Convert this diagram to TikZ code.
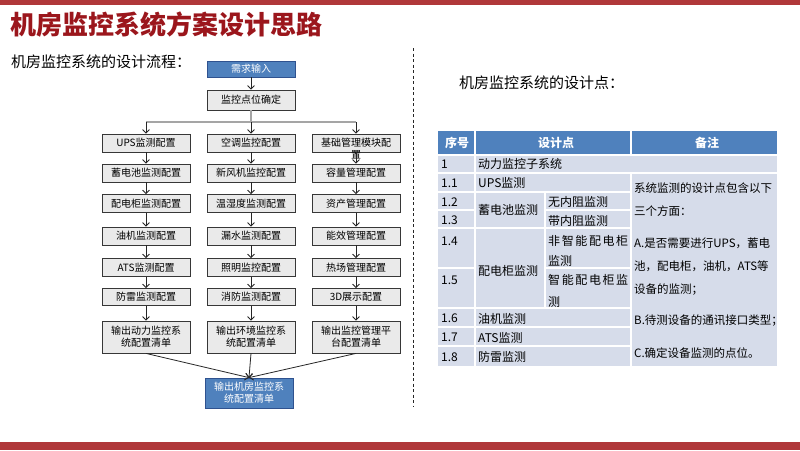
\documentclass[tikz,border=0pt]{standalone}
\usepackage{fontspec}
\setmainfont{Noto Sans CJK SC}
\usetikzlibrary{arrows.meta}
\XeTeXlinebreaklocale "zh"
\XeTeXlinebreakskip = 0pt plus 1pt
\definecolor{barred}{RGB}{176,56,58}
\definecolor{titlered}{RGB}{155,22,28}
\definecolor{boxblue}{RGB}{79,129,189}
\definecolor{boxblueline}{RGB}{47,82,143}
\definecolor{boxgray}{RGB}{234,234,234}
\definecolor{boxline}{RGB}{55,55,55}
\definecolor{thead}{RGB}{79,129,189}
\definecolor{tbody}{RGB}{214,220,234}
\definecolor{busgray}{RGB}{165,165,165}
\tikzset{
  gbox/.style={draw=boxline, line width=0.8pt, fill=boxgray, minimum width=88pt, minimum height=18pt,
    inner sep=1pt, align=center, font=\fontsize{10}{12}\selectfont},
  bbox/.style={gbox, fill=boxblue, draw=boxblueline, text=white},
  arr/.style={-{Straight Barb[length=3.5pt,width=7pt]}, black!85, line width=0.8pt},
  busline/.style={busgray, line width=1.3pt},
  tline/.style={white, line width=1.5pt},
  tcell/.style={anchor=west, inner sep=0pt, font=\fontsize{12}{20}\selectfont},
  thd/.style={inner sep=0pt, text=white, font=\fontsize{12}{14}\selectfont\bfseries},
}
\begin{document}
\begin{tikzpicture}[x=1pt,y=-1pt]
\useasboundingbox (0,0) rectangle (800,450);
\fill[white] (0,0) rectangle (800,450);
% bars
\fill[barred] (0,0) rectangle (800,5);
\fill[barred] (0,442) rectangle (800,450);
% title
\node[anchor=west, inner sep=0pt, text=titlered, font=\fontsize{26}{28}\selectfont\bfseries] (title) at (10,25) {机房监控系统方案设计思路};
\node[anchor=west, inner sep=0pt, font=\fontsize{15}{17}\selectfont] (sub1) at (11,62) {机房监控系统的设计流程：};
\node[anchor=west, inner sep=0pt, font=\fontsize{15}{17}\selectfont] (sub2) at (459,83) {机房监控系统的设计点：};
% divider
\coordinate (dvT) at (413,48);
\coordinate (dvB) at (413,407);
\draw[black!85, line width=0.8pt, dash pattern=on 3pt off 2.5pt] (dvT) -- (dvB);

% flow chart
\node[bbox, minimum height=16pt] (need) at (251,69) {需求输入};
\node[gbox, minimum height=20pt] (conf) at (251,100) {监控点位确定};

\node[gbox] (a1) at (146,143) {UPS监测配置};
\node[gbox] (a2) at (146,173) {蓄电池监测配置};
\node[gbox] (a3) at (146,203.5) {配电柜监测配置};
\node[gbox] (a4) at (146,236) {油机监测配置};
\node[gbox] (a5) at (146,267.5) {ATS监测配置};
\node[gbox, minimum height=17pt] (a6) at (146,297) {防雷监测配置};
\node[gbox, minimum height=32pt] (a7) at (146,337) {输出动力监控系\\统配置清单};

\node[gbox] (b1) at (251,143) {空调监控配置};
\node[gbox] (b2) at (251,173) {新风机监控配置};
\node[gbox] (b3) at (251,203.5) {温湿度监测配置};
\node[gbox] (b4) at (251,236) {漏水监测配置};
\node[gbox] (b5) at (251,267.5) {照明监控配置};
\node[gbox, minimum height=17pt] (b6) at (251,297) {消防监测配置};
\node[gbox, minimum height=32pt] (b7) at (251,337) {输出环境监控系\\统配置清单};

\node[gbox] (c1) at (356,143) {\raisebox{-3.5pt}[0pt][0pt]{\begin{tabular}[t]{@{}c@{}}基础管理模块配\\置\end{tabular}}};
\node[gbox] (c2) at (356,173) {容量管理配置};
\node[gbox] (c3) at (356,203.5) {资产管理配置};
\node[gbox] (c4) at (356,236) {能效管理配置};
\node[gbox] (c5) at (356,267.5) {热场管理配置};
\node[gbox, minimum height=17pt] (c6) at (356,297) {3D展示配置};
\node[gbox, minimum height=32pt] (c7) at (356,337) {输出监控管理平\\台配置清单};

\node[bbox, minimum height=30pt] (fin) at (249,393) {输出机房监控系\\统配置清单};

\draw[arr] (need) -- (conf);
\coordinate (busL) at (146,122);
\coordinate (busM) at (251,122);
\coordinate (busR) at (356,122);
\draw[busline] (conf.south) -- (busM);
\draw[busline] (busL) -- (busR);
\draw[arr] (busL) -- (a1);
\draw[arr] (busM) -- (b1);
\draw[arr] (busR) -- (c1);
\foreach \c in {a,b,c}{
  \draw[arr] (\c1) -- (\c2);
  \draw[arr] (\c2) -- (\c3);
  \draw[arr] (\c3) -- (\c4);
  \draw[arr] (\c4) -- (\c5);
  \draw[arr] (\c5) -- (\c6);
  \draw[arr] (\c6) -- (\c7);
}
\draw[arr] (a7.south) -- (fin.north);
\draw[arr] (b7.south) -- (fin.north);
\draw[arr] (c7.south) -- (fin.north);

% table
\fill[thead] (438,131) rectangle (777,155);
\fill[tbody] (438,155) rectangle (777,366);
\draw[tline] (475,131) -- (475,366);
\draw[tline] (631,131) -- (631,155);
\draw[tline] (631,173) -- (631,366);
\draw[tline] (545,192) -- (545,308);
\draw[tline] (438,155) -- (777,155);
\draw[tline] (438,173) -- (777,173);
\draw[tline] (438,192) -- (631,192);
\draw[tline] (438,210) -- (475,210);
\draw[tline] (545,210) -- (631,210);
\draw[tline] (438,228) -- (631,228);
\draw[tline] (438,268) -- (475,268);
\draw[tline] (545,268) -- (631,268);
\draw[tline] (438,308) -- (631,308);
\draw[tline] (438,327) -- (631,327);
\draw[tline] (438,346) -- (631,346);

\node[thd] (h1) at (457,143) {序号};
\node[thd] (h2) at (556,143) {设计点};
\node[thd] (h3) at (707,143) {备注};

\node[tcell] (n1)  at (441,164) {1};
\node[tcell] (n11) at (441,183) {1.1};
\node[tcell] (n12) at (441,202) {1.2};
\node[tcell] (n13) at (441,220.5) {1.3};
\node[tcell] (n14) at (441,241) {1.4};
\node[tcell] (n15) at (441,280) {1.5};
\node[tcell] (n16) at (441,318.5) {1.6};
\node[tcell] (n17) at (441,337.5) {1.7};
\node[tcell] (n18) at (441,357) {1.8};

\node[tcell] (d1)  at (478,164) {动力监控子系统};
\node[tcell] (d11) at (478,183) {UPS监测};
\node[tcell] (d12) at (478,210) {蓄电池监测};
\node[tcell] (d14) at (478,271) {配电柜监测};
\node[tcell] (d16) at (478,318.5) {油机监测};
\node[tcell] (d17) at (478,337.5) {ATS监测};
\node[tcell] (d18) at (478,357) {防雷监测};

\node[tcell] (s12) at (548,202) {无内阻监测};
\node[tcell] (s13) at (548,220.5) {带内阻监测};
\node[tcell, anchor=north west, align=left] (s14) at (548,235) {\makebox[80pt][s]{非\hfill 智\hfill 能\hfill 配\hfill 电\hfill 柜}\\监测};
\node[tcell, anchor=north west, align=left, font=\fontsize{12}{22}\selectfont] (s15) at (548,274) {\makebox[80pt][s]{智\hfill 能\hfill 配\hfill 电\hfill 柜\hfill 监}\\测};

\node[anchor=north west, inner sep=0pt, align=left, font=\fontsize{11.5}{23}\selectfont] (rem) at (634,183) {%
\makebox[141pt][s]{系统监测的设计点包含以下}\\
三个方面：\\[9pt]
\makebox[141pt][s]{A.是否需要进行UPS，蓄电}\\
\makebox[141pt][s]{池，配电柜，油机，ATS等}\\
设备的监测；\\[8pt]
B.待测设备的通讯接口类型；\\[10pt]
C.确定设备监测的点位。};
\end{tikzpicture}
\end{document}
